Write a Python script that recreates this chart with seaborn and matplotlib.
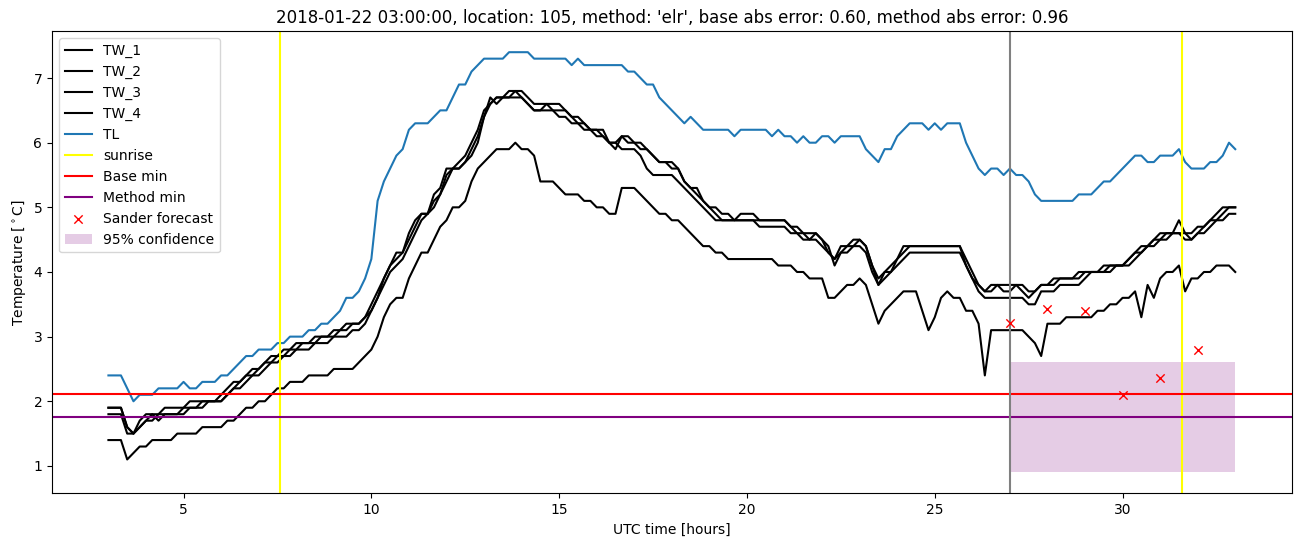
import numpy as np
import matplotlib
matplotlib.use("Agg")
import matplotlib.pyplot as plt
import seaborn as sns

# 10 minute samples from 03:00 to 33:00 (hours after the run start day)
hours = np.linspace(3, 33, 181)

tw_1 = [
    1.9, 1.9, 1.9, 1.6, 1.5, 1.7,
    1.8, 1.8, 1.8, 1.9, 1.9, 1.9,
    1.9, 2.0, 2.0, 2.0, 2.0, 2.0,
    2.1, 2.2, 2.3, 2.3, 2.4, 2.5,
    2.5, 2.6, 2.7, 2.7, 2.8, 2.8,
    2.9, 2.9, 2.9, 3.0, 3.0, 3.0,
    3.1, 3.1, 3.2, 3.2, 3.2, 3.3,
    3.5, 3.7, 3.9, 4.1, 4.3, 4.3,
    4.6, 4.8, 4.9, 4.9, 5.2, 5.3,
    5.6, 5.6, 5.7, 5.8, 6.0, 6.2,
    6.5, 6.6, 6.7, 6.7, 6.8, 6.8,
    6.8, 6.7, 6.6, 6.6, 6.6, 6.6,
    6.6, 6.5, 6.4, 6.3, 6.3, 6.2,
    6.2, 6.2, 6.0, 6.0, 6.1, 6.1,
    6.0, 6.0, 5.9, 5.8, 5.7, 5.7,
    5.7, 5.6, 5.4, 5.3, 5.3, 5.1,
    5.0, 5.0, 4.9, 4.9, 4.8, 4.9,
    4.9, 4.9, 4.8, 4.8, 4.8, 4.8,
    4.8, 4.7, 4.7, 4.6, 4.6, 4.6,
    4.5, 4.3, 4.2, 4.4, 4.4, 4.5,
    4.5, 4.4, 4.1, 3.9, 4.0, 4.1,
    4.2, 4.4, 4.4, 4.4, 4.4, 4.4,
    4.4, 4.4, 4.4, 4.4, 4.4, 4.2,
    4.0, 3.8, 3.7, 3.8, 3.8, 3.8,
    3.8, 3.8, 3.7, 3.6, 3.7, 3.8,
    3.8, 3.9, 3.9, 3.9, 3.9, 4.0,
    4.0, 4.0, 4.0, 4.1, 4.1, 4.1,
    4.1, 4.2, 4.3, 4.4, 4.4, 4.5,
    4.6, 4.6, 4.6, 4.8, 4.6, 4.6,
    4.7, 4.7, 4.8, 4.9, 5.0, 5.0,
    5.0,
]

tw_2 = [
    1.9, 1.9, 1.9, 1.6, 1.5, 1.6,
    1.7, 1.8, 1.7, 1.8, 1.8, 1.8,
    1.9, 1.9, 1.9, 2.0, 2.0, 2.0,
    2.0, 2.1, 2.2, 2.3, 2.4, 2.4,
    2.5, 2.6, 2.6, 2.7, 2.7, 2.8,
    2.8, 2.9, 2.9, 2.9, 3.0, 3.0,
    3.0, 3.1, 3.1, 3.2, 3.2, 3.3,
    3.4, 3.6, 3.9, 4.1, 4.2, 4.3,
    4.5, 4.7, 4.9, 4.9, 5.1, 5.2,
    5.5, 5.6, 5.6, 5.7, 5.9, 6.1,
    6.4, 6.7, 6.6, 6.7, 6.7, 6.8,
    6.7, 6.6, 6.5, 6.5, 6.6, 6.5,
    6.5, 6.5, 6.4, 6.4, 6.3, 6.2,
    6.2, 6.1, 6.0, 5.9, 6.1, 6.0,
    6.0, 5.9, 5.9, 5.8, 5.7, 5.7,
    5.6, 5.6, 5.4, 5.3, 5.2, 5.1,
    5.0, 4.9, 4.8, 4.8, 4.8, 4.8,
    4.8, 4.8, 4.8, 4.8, 4.8, 4.8,
    4.8, 4.7, 4.6, 4.6, 4.5, 4.6,
    4.5, 4.4, 4.1, 4.3, 4.4, 4.4,
    4.5, 4.4, 4.1, 3.8, 4.0, 4.0,
    4.2, 4.3, 4.4, 4.4, 4.4, 4.4,
    4.4, 4.4, 4.4, 4.4, 4.4, 4.1,
    3.9, 3.8, 3.7, 3.7, 3.8, 3.7,
    3.7, 3.8, 3.8, 3.7, 3.7, 3.8,
    3.8, 3.8, 3.9, 3.9, 3.9, 3.9,
    4.0, 4.0, 4.0, 4.0, 4.1, 4.1,
    4.1, 4.2, 4.3, 4.3, 4.4, 4.5,
    4.5, 4.6, 4.6, 4.6, 4.6, 4.5,
    4.6, 4.7, 4.8, 4.8, 4.9, 5.0,
    5.0,
]

tw_3 = [
    1.8, 1.8, 1.8, 1.5, 1.5, 1.6,
    1.7, 1.7, 1.8, 1.8, 1.8, 1.8,
    1.8, 1.9, 1.9, 1.9, 2.0, 2.0,
    2.0, 2.1, 2.2, 2.2, 2.3, 2.4,
    2.4, 2.5, 2.6, 2.6, 2.7, 2.7,
    2.8, 2.8, 2.8, 2.9, 2.9, 2.9,
    3.0, 3.0, 3.0, 3.1, 3.1, 3.2,
    3.4, 3.6, 3.8, 4.0, 4.1, 4.2,
    4.4, 4.6, 4.8, 4.9, 5.0, 5.2,
    5.4, 5.6, 5.6, 5.7, 5.8, 6.0,
    6.4, 6.6, 6.7, 6.7, 6.7, 6.7,
    6.7, 6.6, 6.5, 6.5, 6.5, 6.5,
    6.4, 6.4, 6.3, 6.3, 6.2, 6.2,
    6.1, 6.1, 6.0, 6.0, 5.9, 5.9,
    5.9, 5.8, 5.6, 5.5, 5.5, 5.5,
    5.5, 5.4, 5.3, 5.2, 5.1, 5.0,
    4.9, 4.8, 4.8, 4.8, 4.8, 4.8,
    4.8, 4.8, 4.7, 4.7, 4.7, 4.7,
    4.7, 4.6, 4.6, 4.5, 4.5, 4.5,
    4.4, 4.3, 4.2, 4.3, 4.3, 4.4,
    4.4, 4.3, 4.0, 3.8, 3.9, 4.0,
    4.1, 4.2, 4.3, 4.3, 4.3, 4.3,
    4.3, 4.3, 4.3, 4.3, 4.3, 4.1,
    3.9, 3.7, 3.6, 3.6, 3.6, 3.6,
    3.6, 3.6, 3.6, 3.5, 3.5, 3.7,
    3.7, 3.7, 3.8, 3.8, 3.8, 3.8,
    3.9, 4.0, 4.0, 4.0, 4.0, 4.1,
    4.1, 4.1, 4.2, 4.3, 4.4, 4.4,
    4.5, 4.5, 4.6, 4.6, 4.5, 4.5,
    4.6, 4.6, 4.7, 4.8, 4.8, 4.9,
    4.9,
]

tw_4 = [
    1.4, 1.4, 1.4, 1.1, 1.2, 1.3,
    1.3, 1.4, 1.4, 1.4, 1.4, 1.5,
    1.5, 1.5, 1.5, 1.6, 1.6, 1.6,
    1.6, 1.7, 1.7, 1.8, 1.9, 1.9,
    2.0, 2.0, 2.1, 2.2, 2.2, 2.3,
    2.3, 2.3, 2.4, 2.4, 2.4, 2.4,
    2.5, 2.5, 2.5, 2.5, 2.6, 2.7,
    2.8, 3.0, 3.3, 3.5, 3.6, 3.6,
    3.9, 4.1, 4.3, 4.3, 4.5, 4.7,
    4.8, 5.0, 5.0, 5.1, 5.4, 5.6,
    5.7, 5.8, 5.9, 5.9, 5.9, 6.0,
    5.9, 5.9, 5.8, 5.4, 5.4, 5.4,
    5.3, 5.2, 5.2, 5.2, 5.1, 5.1,
    5.0, 5.0, 4.9, 4.9, 5.3, 5.3,
    5.3, 5.2, 5.1, 5.0, 4.9, 4.9,
    4.8, 4.8, 4.7, 4.6, 4.5, 4.4,
    4.4, 4.3, 4.3, 4.2, 4.2, 4.2,
    4.2, 4.2, 4.2, 4.2, 4.2, 4.1,
    4.1, 4.1, 4.0, 4.0, 3.9, 3.9,
    3.9, 3.6, 3.6, 3.7, 3.8, 3.8,
    3.9, 3.8, 3.5, 3.2, 3.4, 3.5,
    3.6, 3.7, 3.7, 3.7, 3.4, 3.1,
    3.3, 3.6, 3.7, 3.6, 3.6, 3.4,
    3.4, 3.2, 2.4, 3.1, 3.1, 3.1,
    3.1, 3.1, 3.1, 3.0, 2.9, 2.7,
    3.2, 3.2, 3.2, 3.3, 3.3, 3.3,
    3.3, 3.3, 3.4, 3.4, 3.5, 3.5,
    3.6, 3.6, 3.7, 3.3, 3.8, 3.6,
    3.9, 4.0, 4.0, 4.1, 3.7, 3.9,
    3.9, 4.0, 4.0, 4.1, 4.1, 4.1,
    4.0,
]

tl = [
    2.4, 2.4, 2.4, 2.2, 2.0, 2.1,
    2.1, 2.1, 2.2, 2.2, 2.2, 2.2,
    2.3, 2.2, 2.2, 2.3, 2.3, 2.3,
    2.4, 2.4, 2.5, 2.6, 2.7, 2.7,
    2.8, 2.8, 2.8, 2.9, 2.9, 3.0,
    3.0, 3.0, 3.1, 3.1, 3.2, 3.2,
    3.3, 3.4, 3.6, 3.6, 3.7, 3.9,
    4.2, 5.1, 5.4, 5.6, 5.8, 5.9,
    6.2, 6.3, 6.3, 6.3, 6.4, 6.5,
    6.5, 6.7, 6.9, 6.9, 7.1, 7.2,
    7.3, 7.3, 7.3, 7.3, 7.4, 7.4,
    7.4, 7.4, 7.3, 7.3, 7.3, 7.3,
    7.3, 7.3, 7.2, 7.3, 7.2, 7.2,
    7.2, 7.2, 7.2, 7.2, 7.2, 7.1,
    7.1, 7.0, 6.9, 6.9, 6.7, 6.6,
    6.5, 6.4, 6.3, 6.4, 6.3, 6.2,
    6.2, 6.2, 6.2, 6.2, 6.1, 6.2,
    6.2, 6.2, 6.2, 6.2, 6.1, 6.2,
    6.1, 6.1, 6.0, 6.1, 6.0, 6.0,
    6.1, 6.1, 6.0, 6.1, 6.1, 6.1,
    6.1, 5.9, 5.8, 5.7, 5.9, 5.9,
    6.1, 6.2, 6.3, 6.3, 6.3, 6.2,
    6.3, 6.2, 6.3, 6.3, 6.3, 6.0,
    5.8, 5.6, 5.5, 5.6, 5.6, 5.5,
    5.6, 5.5, 5.5, 5.4, 5.2, 5.1,
    5.1, 5.1, 5.1, 5.1, 5.1, 5.2,
    5.2, 5.2, 5.3, 5.4, 5.4, 5.5,
    5.6, 5.7, 5.8, 5.8, 5.7, 5.7,
    5.8, 5.8, 5.8, 5.9, 5.7, 5.6,
    5.6, 5.6, 5.7, 5.7, 5.8, 6.0,
    5.9,
]

sunrise = [7.57, 31.57]
forecast_start = 27.0
base_min = 2.11
method_min = 1.76

forecast_hours = [27, 28, 29, 30, 31, 32]
forecast_temp = [3.21, 3.42, 3.39, 2.10, 2.36, 2.80]

conf_hours = [27, 33]
conf_low = 0.90
conf_high = 2.61

title = ("2018-01-22 03:00:00, location: 105, method: 'elr', "
         "base abs error: 0.60, method abs error: 0.96")

fig, ax = plt.subplots(figsize=(13.02, 5.47), dpi=100)

for name, series in [("TW_1", tw_1), ("TW_2", tw_2), ("TW_3", tw_3), ("TW_4", tw_4)]:
    sns.lineplot(x=hours, y=series, color="black", label=name, estimator=None, ax=ax)
sns.lineplot(x=hours, y=tl, color="tab:blue", label="TL", estimator=None, ax=ax)

ax.axvline(sunrise[0], color="yellow", label="sunrise")
ax.axvline(sunrise[1], color="yellow")
ax.axhline(base_min, color="red", label="Base min")
ax.axhline(method_min, color="purple", label="Method min")
ax.axvline(forecast_start, color="grey")

sns.scatterplot(x=forecast_hours, y=forecast_temp, color="red", marker="x",
                s=36, linewidth=1.0, label="Sander forecast", ax=ax, zorder=3)
ax.fill_between(conf_hours, conf_low, conf_high, color="purple", alpha=0.2,
                linewidth=0, label="95% confidence")

ax.set_title(title)
ax.set_xlabel("UTC time [hours]")
ax.set_ylabel(r"Temperature [$^\circ$C]")
ax.legend(loc="upper left")

fig.subplots_adjust(left=0.04, right=0.992, top=0.943, bottom=0.098)
fig.savefig("out.png", dpi=100)
plt.close(fig)
